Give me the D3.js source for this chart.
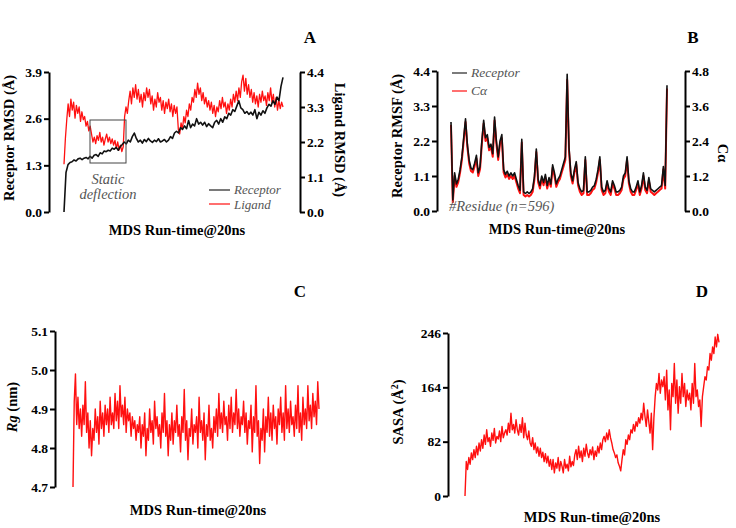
<!DOCTYPE html>
<html>
<head>
<meta charset="utf-8">
<script src="https://cdn.jsdelivr.net/npm/d3@7"></script>
<style>
body { margin: 0; background: #fff; }
svg text { font-family: "Liberation Serif", "Times New Roman", serif; }
.tick text { font-weight: bold; font-size: 13.5px; }
</style>
</head>
<body>
<svg id="chart" width="736" height="528"></svg>
<script>
// ---- panel A : RMSD over 20 ns ----
var rmsdReceptor = [0.0, 1.1, 1.32, 1.38, 1.4, 1.45, 1.42, 1.48, 1.5, 1.46,
  1.5, 1.52, 1.48, 1.55, 1.5, 1.58, 1.6, 1.55, 1.65, 1.62,
  1.7, 1.68, 1.72, 1.7, 1.78, 1.75, 1.8, 1.72, 1.82, 1.88,
  1.95, 1.9, 2.0, 1.95, 2.1, 2.2, 2.05, 1.95, 2.0, 1.92,
  2.02, 1.96, 2.05, 1.98, 1.94, 2.0, 1.96, 2.04, 1.95, 1.98,
  2.02, 1.95, 2.0, 2.1, 2.05, 2.2, 2.25, 2.2, 2.35, 2.3,
  2.4, 2.32, 2.55, 2.35, 2.45, 2.4, 2.6, 2.45, 2.5, 2.42,
  2.5, 2.38, 2.46, 2.4, 2.35, 2.5, 2.55, 2.45, 2.6, 2.5,
  2.65, 2.6, 2.75, 2.7, 2.85, 2.8, 2.95, 3.1, 2.9, 2.85,
  2.75, 2.8, 2.72, 2.78, 2.7, 2.85, 2.6, 2.78, 2.7, 2.82,
  2.75, 2.9, 3.0, 2.95, 3.1, 3.0, 3.2, 3.1, 3.5, 3.75];
var rmsdLigand = [1.5, 2.3, 2.9,
  3.4, 3.0, 3.55, 3.2, 3.45, 2.95, 3.35, 3.1, 3.3, 2.85, 3.15, 2.9,
  3.0, 2.7, 2.85, 2.55, 2.7,
  2.45, 2.2, 2.35, 2.15, 2.4, 2.25, 2.5, 2.2, 2.35, 2.1, 2.3, 2.45,
  2.2, 2.35, 2.15, 2.3, 2.1, 2.25, 2.0, 2.2, 1.95, 2.1, 1.9, 2.05,
  3.0, 3.3, 3.1,
  3.5, 3.8, 3.4, 3.9, 3.6, 4.0, 3.55, 3.85, 3.45, 3.7, 3.3, 3.75,
  3.5, 3.9, 3.6, 3.85, 3.4, 3.65, 3.2, 3.55, 3.3, 3.75, 3.45, 3.6,
  3.2, 3.5, 3.1, 3.45, 3.25, 3.55, 3.15, 3.4, 3.0, 3.35, 3.1, 3.3,
  2.6, 2.45, 2.8, 2.6,
  3.0, 2.8, 3.2, 3.0, 3.4, 3.2, 3.6, 3.45, 3.85, 3.6, 4.05, 3.7,
  3.9, 3.5, 3.75, 3.4, 3.6, 3.3,
  3.5, 3.2, 3.45, 3.1, 3.35, 3.0, 3.3, 3.15, 3.5, 3.25, 3.6, 3.3,
  3.45, 3.1, 3.4, 3.2, 3.55, 3.3, 3.7, 3.45, 3.8, 3.5, 3.9, 3.6,
  4.1, 4.3, 3.8, 4.2, 3.7, 4.0,
  3.6, 3.85, 3.45, 3.75, 3.4, 3.65, 3.3, 3.7, 3.45, 3.8, 3.5, 3.65,
  3.35, 3.75, 3.5, 3.9, 3.45, 3.7, 3.3, 3.6, 3.2, 3.5, 3.25, 3.45, 3.3];
var rmsdTicksLeft = [0, 1.3, 2.6, 3.9];
var rmsdTicksRight = [0, 1.1, 2.2, 3.3, 4.4];

// ---- panel B : RMSF per residue (every 5th residue, n=596) ----
var residues = d3.range(1, 597, 5);
var rmsfReceptor = [2.8, 0.35, 1.2, 0.85, 1.0, 1.3, 1.7, 2.3, 2.9, 2.1,
  1.6, 1.35, 1.3, 1.5, 1.75, 1.2, 1.4, 2.2, 2.85, 2.3,
  2.4, 2.0, 2.1, 1.8, 2.95, 2.2, 1.7, 2.2, 2.4, 1.3,
  1.15, 1.25, 1.1, 1.2, 1.1, 1.2, 1.0, 0.8, 0.65, 2.25,
  0.6, 0.55, 0.6, 0.55, 0.6, 0.7, 1.1, 1.95, 1.0, 0.8,
  1.1, 0.9, 1.15, 0.8, 1.05, 0.85, 1.45, 1.2, 0.85, 1.0,
  1.1, 1.3, 1.5, 1.7, 4.3, 2.0, 1.2, 0.95, 1.3, 1.55,
  0.9, 0.7, 0.6, 0.65, 1.7, 0.6, 0.6, 0.65, 0.75, 0.8,
  1.0, 1.3, 1.7, 0.75, 0.6, 0.65, 0.95, 0.7, 0.6, 0.95,
  0.8, 0.6, 0.6, 0.65, 0.75, 1.1, 1.2, 1.7, 0.95, 0.7,
  0.6, 0.6, 0.75, 0.95, 0.6, 0.8, 1.2, 0.75, 0.65, 1.05,
  0.7, 0.65, 0.6, 0.65, 0.7, 0.75, 0.8, 1.4, 0.8, 3.95];
var rmsfCalpha = [2.95, 0.3, 1.2, 0.83, 0.99, 1.32, 1.75, 2.4, 3.05, 2.2,
  1.64, 1.37, 1.32, 1.53, 1.8, 1.2, 1.43, 2.3, 3.0, 2.4,
  2.5, 2.08, 2.19, 1.86, 3.1, 2.3, 1.75, 2.3, 2.5, 1.32,
  1.15, 1.26, 1.1, 1.2, 1.1, 1.2, 0.99, 0.77, 0.61, 2.35,
  0.55, 0.5, 0.55, 0.5, 0.55, 0.66, 1.1, 2.02, 0.99, 0.77,
  1.1, 0.88, 1.15, 0.77, 1.04, 0.83, 1.48, 1.2, 0.83, 0.99,
  1.1, 1.32, 1.53, 1.75, 4.5, 2.08, 1.2, 0.94, 1.32, 1.59,
  0.88, 0.66, 0.55, 0.61, 1.75, 0.55, 0.55, 0.61, 0.72, 0.77,
  0.99, 1.32, 1.75, 0.72, 0.55, 0.61, 0.94, 0.66, 0.55, 0.94,
  0.77, 0.55, 0.55, 0.61, 0.72, 1.1, 1.2, 1.75, 0.94, 0.66,
  0.55, 0.55, 0.72, 0.94, 0.55, 0.77, 1.2, 0.72, 0.61, 1.04,
  0.66, 0.61, 0.55, 0.61, 0.66, 0.72, 0.77, 1.43, 0.77, 4.2];
var rmsfTicksLeft = [0, 1.1, 2.2, 3.3, 4.4];
var rmsfTicksRight = [0, 1.2, 2.4, 3.6, 4.8];

// ---- panel C : radius of gyration (nm) ----
var rgValues = [4.70, 4.92, 4.99, 4.86, 4.93, 4.85, 4.90, 4.83, 4.91, 4.86, 4.97, 4.84, 4.89, 4.80, 4.87, 4.78, 4.85, 4.82, 4.90, 4.84,
  4.88, 4.81, 4.92, 4.85, 4.89, 4.83, 4.91, 4.86, 4.90, 4.84, 4.93, 4.86, 4.89, 4.85, 4.94, 4.87, 4.92, 4.85, 4.96, 4.88,
  4.91, 4.86, 4.93, 4.84, 4.90, 4.87, 4.89, 4.83, 4.88, 4.85, 4.87, 4.82, 4.86, 4.84, 4.88, 4.80, 4.86, 4.83, 4.89, 4.78,
  4.85, 4.82, 4.90, 4.84, 4.87, 4.81, 4.92, 4.85, 4.88, 4.83, 4.86, 4.80, 4.89, 4.84, 4.94, 4.83, 4.87, 4.78, 4.86, 4.82,
  4.89, 4.81, 4.87, 4.84, 4.91, 4.83, 4.86, 4.79, 4.88, 4.84, 4.95, 4.82, 4.87, 4.77, 4.85, 4.83, 4.90, 4.81, 4.86, 4.84,
  4.88, 4.80, 4.93, 4.84, 4.87, 4.82, 4.89, 4.77, 4.86, 4.83, 4.91, 4.82, 4.85, 4.80, 4.88, 4.84, 4.90, 4.83, 4.94, 4.85,
  4.89, 4.84, 4.92, 4.86, 4.88, 4.82, 4.91, 4.85, 4.93, 4.84, 4.89, 4.86, 4.95, 4.85, 4.90, 4.83, 4.88, 4.86, 4.92, 4.84,
  4.89, 4.81, 4.87, 4.85, 4.91, 4.79, 4.88, 4.84, 4.96, 4.83, 4.87, 4.76, 4.85, 4.82, 4.90, 4.79, 4.88, 4.84, 4.93, 4.83,
  4.89, 4.82, 4.91, 4.85, 4.88, 4.81, 4.90, 4.86, 4.93, 4.84, 4.89, 4.82, 4.96, 4.85, 4.90, 4.84, 4.92, 4.86, 4.88, 4.83,
  4.91, 4.85, 4.96, 4.84, 4.89, 4.82, 4.93, 4.86, 4.90, 4.85, 4.96, 4.87, 4.91, 4.85, 4.94, 4.88, 4.92, 4.86, 4.97, 4.90];
var rgTicks = [4.7, 4.8, 4.9, 5.0, 5.1];

// ---- panel D : SASA ----
var sasaValues = [0, 52, 40, 58, 48, 65, 55, 70, 58, 75, 62, 80, 68, 85,
  72, 92, 78, 100, 82, 88, 75, 95, 84, 102, 80, 90, 86, 98, 82, 105, 88, 95, 100, 92, 110, 96, 125, 100, 108,
  95, 115, 100, 92, 108, 96, 118, 88, 110, 92, 85, 98, 80,
  75, 88, 70, 80, 65, 74, 60, 72, 58, 66, 52, 64, 50, 60, 45, 55,
  40, 55, 35, 50, 42, 58, 38, 52, 45, 35, 55, 42, 48, 38, 60, 44, 52, 46,
  62, 70, 55, 75, 58, 68, 52, 72, 60, 78, 65, 58, 70, 62, 74, 55, 68, 60, 75, 65, 80, 70, 85,
  90, 82, 95, 85, 100, 88,
  80, 70, 65, 58, 62, 50, 45, 38, 55,
  70, 62, 85, 78, 92, 85, 100, 95, 108, 98, 112, 105,
  118, 110, 125, 115, 140, 120, 105, 130, 112, 95, 125, 70, 118,
  150, 170, 160, 185, 155, 175, 165,
  180, 145, 190, 130, 160, 100, 170, 150, 200, 140, 175, 125, 165, 140, 185, 150, 170, 135, 160, 145,
  155, 130, 170, 140, 200, 150, 160, 135, 145, 105, 150, 165, 180,
  175, 195, 190, 215, 205, 225, 215, 240, 225, 244, 232];
var sasaTicks = [0, 82, 164, 246];

var xLabel = "MDS Run-time@20ns";
var red = "#ff1010";

var svg = d3.select("#chart");

function drawAxis(scale, x, ticks, fmt, right) {
  var axis = right ? d3.axisRight(scale) : d3.axisLeft(scale);
  axis.tickValues(ticks).tickFormat(d3.format(fmt)).tickSize(5).tickSizeOuter(0).tickPadding(2);
  var g = svg.append("g").attr("transform", "translate(" + x + ",0)").call(axis);
  g.select(".domain").attr("stroke-width", 2);
  g.selectAll(".tick line").attr("stroke-width", 2);
  g.selectAll(".tick text").attr("fill", "#000");
  return g;
}

function drawTrace(xs, ys, values, colour, w) {
  var line = d3.line()
    .x(function(d, i) { return xs(i); })
    .y(function(d) { return ys(d); });
  svg.append("path")
    .datum(values)
    .attr("d", line)
    .attr("fill", "none")
    .attr("stroke", colour)
    .attr("stroke-width", w)
    .attr("stroke-linejoin", "round");
}

function boldText(x, y, txt, size, rot) {
  var t = svg.append("text")
    .attr("transform", "translate(" + x + "," + y + ")" + (rot ? " rotate(" + rot + ")" : ""))
    .attr("text-anchor", "middle")
    .attr("font-weight", "bold")
    .attr("font-size", size)
    .text(txt);
  return t;
}

function noteText(x, y, txt, anchor, size) {
  return svg.append("text")
    .attr("x", x).attr("y", y)
    .attr("text-anchor", anchor || "start")
    .attr("font-style", "italic")
    .attr("font-size", size || 14.5)
    .attr("fill", "#555")
    .text(txt);
}

/* panel A */
var yA = d3.scaleLinear().domain([0, 3.9]).range([212, 72]);
var yA2 = d3.scaleLinear().domain([0, 4.4]).range([212, 72]);
var xAr = d3.scaleLinear().domain([0, rmsdReceptor.length - 1]).range([64, 283]);
var xAl = d3.scaleLinear().domain([0, rmsdLigand.length - 1]).range([64, 283]);
drawTrace(xAl, yA2, rmsdLigand, red, 1.3);
drawTrace(xAr, yA, rmsdReceptor, "#111", 1.6);
drawAxis(yA, 49, rmsdTicksLeft, ".1f", false);
drawAxis(yA2, 300, rmsdTicksRight, ".1f", true);
svg.append("rect").attr("x", 90).attr("y", 120).attr("width", 36).attr("height", 43)
  .attr("fill", "none").attr("stroke", "#444").attr("stroke-width", 1);
noteText(108, 184, "Static", "middle");
noteText(108, 199, "deflection", "middle");
svg.append("line").attr("x1", 209).attr("x2", 230).attr("y1", 190).attr("y2", 190).attr("stroke", "#222").attr("stroke-width", 1.2);
svg.append("line").attr("x1", 209).attr("x2", 230).attr("y1", 204).attr("y2", 204).attr("stroke", red).attr("stroke-width", 1.2);
noteText(234, 194, "Receptor", "start", 13);
noteText(234, 209, "Ligand", "start", 13);
boldText(310, 43, "A", 17);
boldText(177, 235, xLabel, 14.5);
boldText(14, 138, "Receptor RMSD (Å)", 14.5, -90);
boldText(335, 140, "Ligand RMSD (Å)", 14.5, 90);

/* panel B */
var yB = d3.scaleLinear().domain([0, 4.4]).range([211, 71]);
var yB2 = d3.scaleLinear().domain([0, 4.8]).range([211, 71]);
var xB = d3.scaleLinear().domain([1, 596]).range([451, 667]);
var xBi = function(i) { return xB(residues[i]); };
drawTrace(xBi, yB2, rmsfCalpha, red, 2);
drawTrace(xBi, yB, rmsfReceptor, "#111", 1.6);
drawAxis(yB, 437, rmsfTicksLeft, ".1f", false);
drawAxis(yB2, 685, rmsfTicksRight, ".1f", true);
svg.append("line").attr("x1", 452).attr("x2", 467).attr("y1", 73).attr("y2", 73).attr("stroke", "#222").attr("stroke-width", 1.2);
svg.append("line").attr("x1", 452).attr("x2", 467).attr("y1", 91).attr("y2", 91).attr("stroke", red).attr("stroke-width", 1.2);
noteText(471, 77, "Receptor", "start", 13.5);
noteText(471, 95, "Cα", "start", 13.5);
noteText(449, 211, "#Residue (n=596)");
boldText(693, 43, "B", 17);
boldText(557, 234, xLabel, 14.5);
boldText(402, 136, "Receptor RMSF (Å)", 14.5, -90);
boldText(718, 153, "Cα", 14.5, 90);

/* panel C */
var yC = d3.scaleLinear().domain([4.7, 5.1]).range([487, 331]);
var xC = d3.scaleLinear().domain([0, rgValues.length - 1]).range([73, 319]);
drawTrace(xC, yC, rgValues, red, 1.4);
drawAxis(yC, 55, rgTicks, ".1f", false);
boldText(300, 297, "C", 17);
boldText(198, 515, xLabel, 14.5);
var rgLabel = boldText(17, 407, "", 14.5, -90);
rgLabel.append("tspan").attr("font-style", "italic").text("Rg");
rgLabel.append("tspan").text(" (nm)");

/* panel D */
var yD = d3.scaleLinear().domain([0, 246]).range([496, 333]);
var xD = d3.scaleLinear().domain([0, sasaValues.length - 1]).range([465, 719]);
drawTrace(xD, yD, sasaValues, red, 1.4);
drawAxis(yD, 448, sasaTicks, "d", false);
boldText(702, 297, "D", 17);
boldText(592, 522, xLabel, 14.5);
var sasaLabel = boldText(403, 412, "", 14.5, -90);
sasaLabel.append("tspan").text("SASA (Å");
sasaLabel.append("tspan").attr("dy", -5).attr("font-size", 10).text("2");
sasaLabel.append("tspan").attr("dy", 5).text(")");
</script>
</body>
</html>
